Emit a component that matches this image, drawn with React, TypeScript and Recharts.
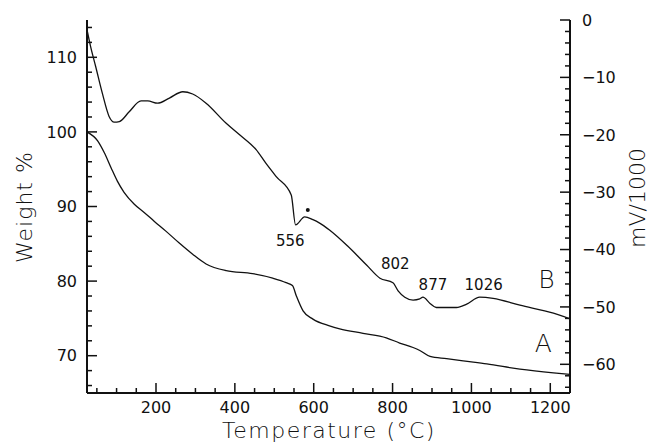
import { ComposedChart, Line, XAxis, YAxis, ReferenceDot } from "recharts"

// curve A: weight loss (left axis)
const tempA = [25, 52, 69, 86, 102, 119, 145, 170, 196, 225, 259, 293, 327, 378, 445, 496, 530, 546, 556, 573, 598, 640, 666, 725, 784, 818, 852, 869, 895, 937, 979, 1039, 1123, 1208, 1250]
const weightA = [100.0, 98.8, 97.2, 95.2, 93.4, 91.9, 90.3, 89.2, 88.0, 86.7, 85.1, 83.6, 82.3, 81.4, 81.0, 80.4, 79.8, 79.4, 78.0, 76.0, 74.9, 74.0, 73.6, 73.0, 72.4, 71.7, 71.1, 70.7, 69.9, 69.6, 69.3, 68.9, 68.2, 67.7, 67.5]

// curve B: DTA signal (right axis, mV/1000)
const tempB = [25, 34, 47, 64, 81, 94, 107, 132, 162, 179, 204, 234, 268, 293, 327, 378, 412, 454, 479, 505, 543, 554, 577, 598, 615, 640, 686, 734, 768, 801, 814, 831, 852, 869, 877, 895, 911, 962, 988, 1021, 1055, 1123, 1208, 1250]
const dtaB = [-1.7, -4.6, -8.1, -12.8, -16.8, -17.8, -17.7, -16.0, -14.1, -14.1, -14.5, -13.6, -12.5, -12.9, -14.5, -18.0, -20.0, -22.6, -25.0, -27.3, -30.5, -35.7, -34.3, -34.8, -35.4, -36.6, -39.4, -42.7, -45.0, -45.8, -47.2, -48.3, -48.8, -48.6, -48.3, -49.4, -50.1, -50.1, -49.5, -48.3, -48.5, -49.7, -51.1, -52.1]

const xTicks = [50, 100, 150, 200, 250, 300, 350, 400, 450, 500, 550, 600, 650, 700, 750, 800, 850, 900, 950, 1000, 1050, 1100, 1150, 1200, 1250]
const leftTicks = [66, 68, 70, 72, 74, 76, 78, 80, 82, 84, 86, 88, 90, 92, 94, 96, 98, 100, 102, 104, 106, 108, 110, 112, 114]
const rightTicks = [-64, -62, -60, -58, -56, -54, -52, -50, -48, -46, -44, -42, -40, -38, -36, -34, -32, -30, -28, -26, -24, -22, -20, -18, -16, -14, -12, -10, -8, -6, -4, -2, 0]

// peak labels on curve B
const peakTemps = [556, 802, 877, 1026]
const peakValues = [-35.7, -45.8, -48.3, -48.3]

const dataA = tempA.map((t, i) => ({ t, w: weightA[i] }))
const dataB = tempB.map((t, i) => ({ t, d: dtaB[i] }))

const FONT = "'DejaVu Sans', sans-serif"
const INK = "#111"

function BottomTick({ x, y, payload }: any) {
  const major = payload.value % 200 === 0
  return (
    <g>
      <line x1={x} x2={x} y1={y} y2={y - (major ? 10 : 5)} stroke={INK} strokeWidth={1.5} />
      {major && (
        <text x={x} y={y + 20} textAnchor="middle" fontFamily={FONT} fontSize={16} fill={INK}>
          {payload.value}
        </text>
      )}
    </g>
  )
}

function LeftTick({ x, y, payload }: any) {
  const major = payload.value % 10 === 0
  return (
    <g>
      <line x1={x} x2={x + (major ? 10 : 5)} y1={y} y2={y} stroke={INK} strokeWidth={1.5} />
      {major && (
        <text x={x - 10} y={y} dy="0.36em" textAnchor="end" fontFamily={FONT} fontSize={16} fill={INK}>
          {payload.value}
        </text>
      )}
    </g>
  )
}

function RightTick({ x, y, payload }: any) {
  const major = payload.value % 10 === 0
  const label = payload.value < 0 ? `\u2212${-payload.value}` : `${payload.value}`
  return (
    <g>
      <line x1={x} x2={x - (major ? 10 : 5)} y1={y} y2={y} stroke={INK} strokeWidth={1.5} />
      {major && (
        <text x={x + 12} y={y} dy="0.36em" textAnchor="start" fontFamily={FONT} fontSize={16} fill={INK}>
          {label}
        </text>
      )}
    </g>
  )
}

const peakOffsets: Record<number, [number, number]> = {
  556: [-6, 16],
  802: [2, -19],
  877: [10, -13],
  1026: [2, -13],
}

export default function App() {
  return (
    <div style={{ position: "absolute", left: 0, top: 0, width: 651, height: 446, background: "#fff" }}>
      <ComposedChart width={651} height={446} margin={{ top: 20, right: 0, bottom: 0, left: 0 }}>
        <XAxis
          dataKey="t"
          type="number"
          domain={[25, 1250]}
          allowDataOverflow
          ticks={xTicks}
          interval={0}
          height={53}
          tickSize={0}
          tickMargin={0}
          tickLine={false}
          axisLine={{ stroke: INK, strokeWidth: 2 }}
          tick={<BottomTick />}
        />
        <XAxis
          xAxisId="top"
          orientation="top"
          dataKey="t"
          type="number"
          domain={[25, 1250]}
          height={0}
          tick={false}
          tickLine={false}
          axisLine={{ stroke: INK, strokeWidth: 2 }}
        />
        <YAxis
          yAxisId="left"
          type="number"
          domain={[65, 115]}
          allowDataOverflow
          ticks={leftTicks}
          interval={0}
          width={87}
          tickSize={0}
          tickMargin={0}
          tickLine={false}
          axisLine={{ stroke: INK, strokeWidth: 2 }}
          tick={<LeftTick />}
        />
        <YAxis
          yAxisId="right"
          orientation="right"
          type="number"
          domain={[-65, 0]}
          allowDataOverflow
          ticks={rightTicks}
          interval={0}
          width={81}
          tickSize={0}
          tickMargin={0}
          tickLine={false}
          axisLine={{ stroke: INK, strokeWidth: 2 }}
          tick={<RightTick />}
        />
        <Line
          yAxisId="left"
          data={dataA}
          dataKey="w"
          type="monotone"
          stroke={INK}
          strokeWidth={1.3}
          dot={false}
          isAnimationActive={false}
        />
        <Line
          yAxisId="right"
          data={dataB}
          dataKey="d"
          type="monotone"
          stroke={INK}
          strokeWidth={1.3}
          dot={false}
          isAnimationActive={false}
        />
        {peakTemps.map((t, i) => (
          <ReferenceDot
            key={t}
            yAxisId="right"
            x={t}
            y={peakValues[i]}
            r={0}
            shape={(p: any) => (
              <text
                x={p.cx + peakOffsets[t][0]}
                y={p.cy + peakOffsets[t][1]}
                dy="0.36em"
                textAnchor="middle"
                fontFamily={FONT}
                fontSize={15}
                fill={INK}
              >
                {t}
              </text>
            )}
          />
        ))}
        <ReferenceDot yAxisId="right" x={585} y={-33.1} r={2} fill={INK} stroke="none" />
        <ReferenceDot
          yAxisId="right"
          x={1190}
          y={-45.1}
          r={0}
          shape={(p: any) => (
            <text x={p.cx} y={p.cy} dy="0.36em" textAnchor="middle" fontFamily={FONT} fontSize={25} fontWeight={200} fill={INK}>
              B
            </text>
          )}
        />
        <ReferenceDot
          yAxisId="left"
          x={1182}
          y={71.7}
          r={0}
          shape={(p: any) => (
            <text x={p.cx} y={p.cy} dy="0.36em" textAnchor="middle" fontFamily={FONT} fontSize={25} fontWeight={200} fill={INK}>
              A
            </text>
          )}
        />
        <text x={329} y={438} textAnchor="middle" fontFamily={FONT} fontSize={22} fontWeight={200} letterSpacing={1.5} fill={INK}>
          Temperature (°C)
        </text>
        <text x={32} y={207} transform="rotate(-90 32 207)" textAnchor="middle" fontFamily={FONT} fontSize={22} fontWeight={200} letterSpacing={1} fill={INK}>
          Weight %
        </text>
        <text x={645} y={198} transform="rotate(-90 645 198)" textAnchor="middle" fontFamily={FONT} fontSize={22} fontWeight={200} fill={INK}>
          mV/1000
        </text>
      </ComposedChart>
    </div>
  )
}
